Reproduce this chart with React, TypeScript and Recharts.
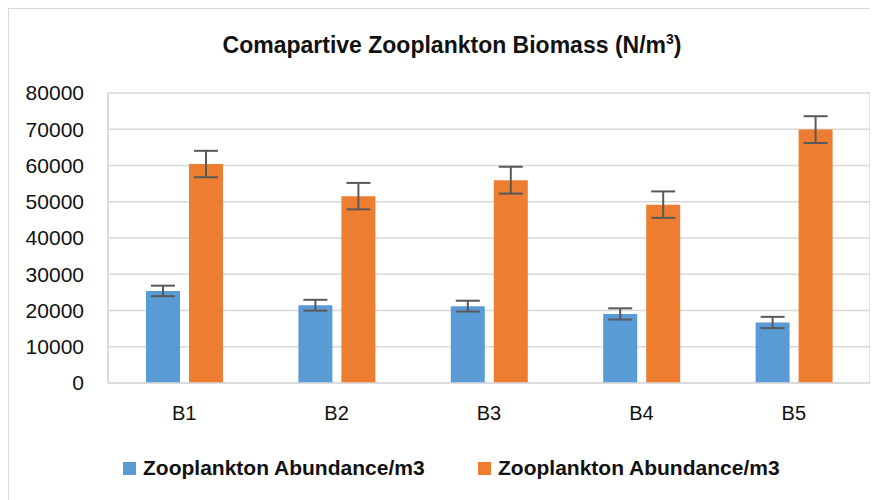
import React from 'react';
import { BarChart, Bar, XAxis, YAxis, CartesianGrid, ErrorBar } from 'recharts';

const categories = ['B1', 'B2', 'B3', 'B4', 'B5'];
const abundanceA = [25400, 21450, 21200, 19050, 16700];
const abundanceAErr = [1450, 1500, 1500, 1550, 1550];
const abundanceB = [60400, 51550, 55950, 49200, 69900];
const abundanceBErr = [3650, 3650, 3700, 3650, 3700];
const yTicks = [0, 10000, 20000, 30000, 40000, 50000, 60000, 70000, 80000];

const seriesNames = ['Zooplankton Abundance/m3', 'Zooplankton Abundance/m3'];
const BLUE = '#5B9BD5';
const ORANGE = '#ED7D31';
const GRID = '#d9d9d9';
const FONT = '"Liberation Sans", Arial, sans-serif';

const data = categories.map((name, i) => ({
    name,
    a: abundanceA[i],
    aErr: abundanceAErr[i],
    b: abundanceB[i],
    bErr: abundanceBErr[i],
}));

// legend items sit where the original puts them
const legendLeft = [114, 469];

const App = () => {
    return (
        <div style={{ position: 'relative', width: 886, height: 500, border: `1px solid ${GRID}`, background: '#fff' }}>
            <div style={{ position: 'absolute', top: 23, left: 0, width: '100%', textAlign: 'center', fontFamily: FONT, fontWeight: 700, fontSize: 23, lineHeight: '27px', color: '#111' }}>
                Comapartive Zooplankton Biomass (N/m<sup style={{ fontSize: 14, lineHeight: 0 }}>3</sup>)
            </div>
            <BarChart
                width={884}
                height={490}
                data={data}
                margin={{ top: 84, right: 23, left: 19, bottom: 76 }}
                barSize={34}
                barGap={9}
            >
                <CartesianGrid
                    stroke={GRID}
                    strokeWidth={1.5}
                    verticalCoordinatesGenerator={({ offset }: any) => [offset.left, offset.left + offset.width]}
                />
                <XAxis
                    dataKey="name"
                    tickLine={false}
                    axisLine={{ stroke: GRID, strokeWidth: 1.5 }}
                    tick={{ fontSize: 20, fill: '#111', fontFamily: FONT }}
                    tickMargin={17}
                    height={40}
                />
                <YAxis
                    domain={[0, 80000]}
                    ticks={yTicks}
                    interval={0}
                    tickLine={false}
                    axisLine={{ stroke: GRID, strokeWidth: 1.5 }}
                    tick={{ fontSize: 21, fill: '#111', fontFamily: FONT }}
                    tickMargin={18}
                    width={80}
                />
                <Bar dataKey="a" fill={BLUE} isAnimationActive={false}>
                    <ErrorBar dataKey="aErr" width={12} strokeWidth={2} stroke="#595959" />
                </Bar>
                <Bar dataKey="b" fill={ORANGE} isAnimationActive={false}>
                    <ErrorBar dataKey="bErr" width={12} strokeWidth={2} stroke="#595959" />
                </Bar>
            </BarChart>
            {[BLUE, ORANGE].map((c, i) => (
                <div key={i} style={{ position: 'absolute', top: 447, left: legendLeft[i], display: 'flex', alignItems: 'center', fontFamily: FONT, fontWeight: 700, fontSize: 21, lineHeight: '24px', color: '#111', whiteSpace: 'nowrap' }}>
                    <span style={{ width: 13, height: 13, background: c, display: 'inline-block', marginRight: 7 }} />
                    <span>{seriesNames[i]}</span>
                </div>
            ))}
        </div>
    );
};

export default App;
